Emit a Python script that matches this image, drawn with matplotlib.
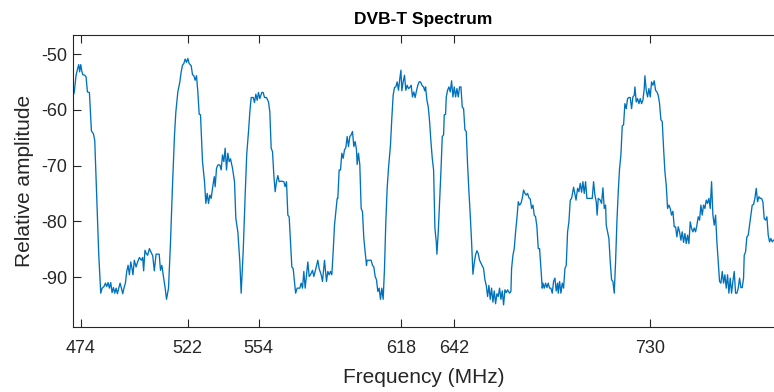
import matplotlib
matplotlib.use("Agg")
import matplotlib.pyplot as plt

plt.rcParams['font.family'] = ['Liberation Sans', 'DejaVu Sans']

freq_mhz = [
    470.3, 471.0, 471.8, 472.5, 473.0, 473.4, 473.9, 474.3, 474.8, 475.7, 476.3, 476.9, 477.8,
    478.7, 479.6, 480.2, 481.1, 482.0, 482.9, 483.5, 484.4, 485.0, 485.6, 486.2, 486.8, 487.4,
    488.0, 488.6, 489.2, 489.8, 490.4, 491.0, 491.6, 492.2, 492.8, 493.4, 494.0, 494.6, 495.2,
    495.8, 496.4, 497.0, 497.4, 498.0, 498.8, 499.5, 500.3, 501.2, 501.8, 502.2, 502.8, 503.4,
    504.0, 504.8, 505.5, 506.3, 507.0, 507.8, 509.2, 509.8, 510.4, 511.0, 511.9, 512.5, 513.4,
    514.3, 515.2, 516.1, 516.7, 517.6, 518.5, 519.1, 519.7, 520.3, 520.9, 521.5, 522.1, 522.7,
    523.6, 524.2, 524.8, 525.4, 526.0, 526.6, 527.2, 527.8, 528.7, 529.6, 530.2, 530.8, 531.4,
    532.0, 532.6, 533.2, 534.0, 534.4, 535.0, 535.6, 536.5, 537.1, 537.7, 538.3, 538.9, 539.5,
    540.1, 540.7, 541.3, 542.2, 543.1, 543.7, 544.6, 545.5, 546.1, 547.0, 547.9, 548.6, 549.4,
    550.0, 550.6, 551.5, 552.1, 552.7, 553.3, 553.9, 554.5, 555.4, 556.0, 556.6, 557.5, 558.4,
    559.0, 559.6, 560.2, 560.8, 561.4, 562.0, 562.6, 563.2, 564.1, 565.3, 565.9, 566.5, 567.1,
    567.7, 568.3, 568.9, 569.5, 570.1, 570.6, 571.3, 572.5, 573.1, 573.7, 574.3, 574.9, 575.5,
    576.1, 576.7, 577.3, 578.2, 578.8, 579.7, 580.6, 581.2, 582.1, 582.7, 583.6, 584.5, 585.1,
    585.7, 586.3, 586.9, 587.5, 588.1, 588.7, 589.3, 589.6, 590.2, 590.8, 591.4, 592.0, 592.6,
    593.2, 593.8, 594.4, 595.0, 595.6, 596.2, 596.8, 597.4, 598.0, 598.3, 598.9, 599.5, 600.1,
    600.7, 601.3, 601.9, 602.5, 602.8, 603.7, 604.6, 605.2, 605.8, 606.4, 607.0, 607.6, 608.2,
    608.8, 609.4, 610.0, 610.6, 611.2, 611.8, 612.4, 613.3, 613.9, 614.5, 615.1, 615.7, 616.3,
    616.9, 617.5, 618.0, 618.4, 619.0, 619.6, 620.2, 620.8, 621.4, 622.0, 622.6, 623.2, 623.8,
    624.4, 625.0, 625.6, 626.2, 626.8, 627.6, 628.2, 628.7, 629.1, 629.7, 630.3, 630.9, 631.5,
    632.1, 632.7, 633.0, 633.3, 633.9, 634.2, 634.8, 635.4, 636.0, 636.6, 637.2, 637.5, 638.1,
    638.4, 639.0, 639.6, 640.2, 640.8, 641.4, 642.0, 642.6, 643.2, 643.8, 644.4, 645.0, 645.6,
    646.2, 646.8, 647.4, 648.0, 648.6, 649.2, 649.8, 650.4, 651.0, 651.6, 652.2, 652.8, 653.4,
    654.0, 654.6, 655.2, 655.8, 656.4, 657.0, 657.6, 658.2, 658.8, 659.4, 660.0, 660.6, 661.2,
    661.8, 662.4, 663.0, 663.6, 664.2, 664.8, 665.4, 666.0, 666.9, 667.5, 667.8, 668.4, 669.0,
    669.6, 670.2, 670.8, 671.4, 672.0, 672.6, 673.2, 673.8, 674.4, 675.0, 675.6, 676.2, 676.8,
    677.4, 678.0, 678.6, 679.2, 679.8, 680.4, 681.0, 681.6, 681.9, 682.5, 683.1, 683.7, 684.3,
    684.9, 685.5, 686.1, 686.7, 687.3, 687.9, 688.5, 688.8, 689.4, 690.0, 690.6, 691.2, 691.8,
    692.4, 693.0, 693.6, 694.2, 694.8, 695.7, 696.8, 697.5, 698.1, 698.7, 699.3, 699.9, 700.5,
    701.1, 701.7, 702.3, 702.9, 703.5, 704.1, 704.7, 705.3, 705.9, 706.3, 706.8, 707.7, 708.3,
    708.9, 709.5, 710.1, 710.4, 711.0, 711.6, 712.2, 712.8, 713.4, 714.0, 714.6, 715.2, 715.8,
    716.4, 717.0, 717.6, 718.2, 718.8, 719.4, 720.0, 720.6, 721.2, 721.8, 722.4, 723.0, 723.3,
    723.9, 724.5, 725.1, 725.7, 726.3, 726.9, 727.5, 727.8, 728.4, 729.0, 729.6, 730.2, 730.8,
    731.4, 732.0, 732.6, 733.2, 733.8, 734.4, 735.0, 735.6, 736.2, 736.8, 737.4, 738.0, 738.6,
    739.2, 739.8, 740.4, 741.0, 741.6, 742.2, 742.8, 743.4, 744.0, 744.6, 745.2, 745.8, 746.4,
    747.0, 747.6, 748.2, 748.8, 749.4, 750.0, 750.6, 751.2, 751.8, 752.4, 753.0, 753.6, 754.2,
    754.8, 755.4, 756.0, 756.6, 757.2, 757.8, 758.4, 759.0, 759.6, 760.2, 760.8, 761.4, 762.0,
    762.6, 763.2, 763.8, 764.4, 765.0, 765.6, 766.2, 766.8, 767.4, 768.0, 768.6, 769.2, 769.8,
    770.4, 771.0, 771.6, 772.2, 772.5, 773.1, 773.7, 774.3, 774.9, 775.5, 776.1, 776.7, 777.3,
    777.9, 778.5, 779.1, 779.7, 780.3, 780.9, 781.5, 782.1, 782.7, 783.3, 783.9, 784.5, 785.1,
    785.7,
]

amplitude_db = [
    -57.7, -56.8, -53.8, -52.6, -51.9, -53.2, -51.9, -52.9, -53.7, -53.8, -54.1, -56.8, -56.9,
    -63.8, -64.3, -65.5, -75.5, -86.0, -92.9, -92.0, -91.7, -91.1, -91.7, -91.0, -92.0, -91.0,
    -92.8, -91.9, -92.9, -92.0, -93.0, -92.0, -91.1, -92.0, -93.0, -91.9, -91.1, -89.0, -87.9,
    -89.6, -87.3, -88.5, -89.6, -87.0, -88.2, -87.3, -86.5, -87.0, -86.5, -88.9, -85.2, -85.8,
    -86.1, -84.9, -85.5, -86.2, -88.9, -85.9, -85.9, -88.8, -87.9, -89.6, -92.0, -94.0, -92.0,
    -83.7, -73.5, -64.5, -60.4, -56.8, -55.0, -53.2, -52.0, -51.7, -50.9, -51.5, -50.8, -51.7,
    -52.1, -53.7, -53.9, -54.7, -53.9, -56.8, -60.8, -60.9, -69.3, -72.9, -76.8, -75.0, -76.8,
    -75.3, -75.9, -74.1, -72.0, -73.8, -70.5, -69.9, -69.9, -70.8, -68.1, -69.3, -66.9, -70.8,
    -67.8, -69.3, -68.8, -70.5, -72.9, -79.5, -81.9, -87.3, -92.9, -85.5, -75.3, -68.0, -63.9,
    -60.4, -57.8, -57.8, -58.7, -57.2, -58.3, -56.9, -58.0, -56.9, -56.9, -57.8, -57.8, -58.6,
    -60.4, -66.9, -67.5, -71.7, -74.7, -72.9, -71.8, -72.9, -72.8, -72.9, -73.8, -72.9, -78.9,
    -79.2, -83.7, -88.2, -88.5, -90.8, -92.9, -92.0, -92.0, -91.1, -92.0, -89.0, -92.0, -89.6,
    -87.3, -89.9, -89.6, -88.8, -89.9, -88.5, -87.0, -88.5, -89.6, -90.8, -87.0, -90.8, -89.0,
    -89.6, -89.0, -89.6, -85.5, -80.7, -78.3, -75.9, -75.9, -70.8, -70.8, -67.8, -68.7, -67.2,
    -66.8, -64.8, -66.6, -64.8, -64.5, -63.9, -66.6, -65.7, -67.2, -69.8, -67.8, -69.9, -77.7,
    -78.3, -83.1, -85.5, -87.9, -87.0, -87.0, -87.0, -87.9, -88.2, -89.9, -90.5, -92.6, -92.0,
    -94.0, -92.0, -94.0, -88.5, -80.1, -74.1, -70.5, -66.3, -61.5, -57.4, -56.0, -55.9, -55.0,
    -56.5, -54.4, -52.9, -56.6, -55.0, -53.8, -56.5, -55.6, -56.2, -56.0, -55.6, -57.7, -56.8,
    -57.8, -56.6, -55.6, -55.0, -55.0, -55.7, -55.9, -56.6, -55.9, -58.3, -59.5, -62.1, -65.7,
    -68.7, -70.8, -76.5, -81.3, -83.7, -85.9, -81.9, -76.5, -71.1, -64.8, -64.5, -60.9, -60.8,
    -57.7, -56.5, -55.9, -56.8, -54.8, -57.7, -55.9, -57.7, -56.2, -57.7, -55.9, -55.9, -59.5,
    -59.8, -63.6, -63.9, -69.9, -74.7, -78.9, -83.7, -89.5, -87.5, -86.0, -85.3, -85.8, -87.0,
    -87.5, -88.0, -88.5, -90.5, -91.5, -93.5, -91.5, -94.0, -92.0, -94.5, -92.5, -94.8, -93.0,
    -93.5, -92.0, -94.0, -92.5, -95.0, -92.3, -92.8, -92.3, -92.9, -92.6, -88.5, -86.1, -84.9,
    -81.9, -79.5, -76.5, -77.1, -76.8, -75.9, -74.4, -75.0, -75.3, -75.0, -75.8, -76.0, -77.7,
    -77.1, -78.9, -79.2, -81.0, -84.9, -84.9, -88.5, -92.0, -91.1, -92.0, -91.1, -91.9, -91.1,
    -92.0, -92.0, -92.9, -90.8, -90.2, -92.5, -91.1, -92.9, -90.8, -92.9, -91.1, -92.0, -88.5,
    -87.9, -81.9, -80.1, -76.2, -75.9, -73.9, -76.2, -74.1, -74.7, -73.2, -74.8, -72.9, -75.0,
    -72.9, -75.9, -75.9, -75.9, -75.9, -75.9, -72.9, -75.3, -76.5, -78.9, -75.9, -76.2, -76.8,
    -74.0, -77.7, -77.1, -80.7, -81.9, -83.1, -87.3, -90.5, -90.8, -92.9, -87.3, -80.1, -74.7,
    -70.5, -68.1, -62.9, -62.7, -58.9, -59.8, -58.0, -57.8, -57.8, -59.8, -57.7, -57.4, -55.9,
    -58.6, -58.0, -58.9, -58.0, -58.9, -58.3, -56.2, -53.9, -56.5, -57.7, -56.2, -57.7, -55.0,
    -55.6, -54.8, -56.5, -56.8, -57.4, -58.9, -61.8, -62.1, -66.9, -71.1, -73.5, -77.7, -77.1,
    -77.7, -78.9, -78.2, -81.0, -81.0, -82.8, -81.0, -81.9, -83.4, -81.9, -83.8, -82.2, -84.0,
    -82.5, -84.0, -80.1, -81.3, -81.9, -81.2, -81.9, -80.7, -79.2, -79.8, -77.1, -78.9, -77.1,
    -77.7, -76.2, -76.8, -75.9, -77.7, -72.9, -78.9, -80.7, -78.9, -83.7, -87.3, -90.8, -91.1,
    -89.0, -91.1, -89.6, -92.0, -89.6, -92.9, -90.2, -92.9, -90.8, -89.0, -92.9, -92.9, -92.0,
    -90.2, -91.9, -91.9, -90.2, -86.1, -85.5, -82.8, -82.5, -80.7, -78.9, -77.1, -77.0, -75.9,
    -74.1, -76.5, -75.6, -75.9, -75.9, -76.5, -79.5, -79.8, -79.2, -82.5, -83.7, -83.1, -83.7,
    -83.4,
]

x_ticks = [474, 522, 554, 618, 642, 730]
y_ticks = [-90, -80, -70, -60, -50]

title_text = "DVB-T Spectrum"
x_label = "Frequency (MHz)"
y_label = "Relative amplitude"

axis_color = "#262626"
line_color = "#0072BD"

fig = plt.figure(figsize=(7.74, 3.92), dpi=100)
ax = fig.add_axes([0.0939, 0.1658, 0.9061, 0.7449])

ax.plot(freq_mhz, amplitude_db, color=line_color, linewidth=0.95)

ax.set_xlim(470.27, 785.9)
ax.set_ylim(-98.97, -46.59)
ax.set_xticks(x_ticks)
ax.set_xticklabels([str(t) for t in x_ticks])
ax.set_yticks(y_ticks)
ax.set_yticklabels([str(t) for t in y_ticks])

for side in ["left", "bottom", "top"]:
    ax.spines[side].set_color(axis_color)
    ax.spines[side].set_linewidth(0.8)
ax.spines["right"].set_visible(False)

ax.tick_params(axis="x", direction="in", length=5.5, width=0.8, color=axis_color,
               labelcolor=axis_color, labelsize=13, pad=9, top=True)
ax.tick_params(axis="y", direction="in", length=5.5, width=0.8, color=axis_color,
               labelcolor=axis_color, labelsize=13, pad=4, right=False)

ax.set_xlabel(x_label, fontsize=15, color=axis_color, labelpad=8)
ax.set_ylabel(y_label, fontsize=15, color=axis_color, labelpad=5)
ax.set_title(title_text, fontsize=12.5, fontweight="bold", color="black", pad=8)

fig.savefig("out.png", dpi=100)
